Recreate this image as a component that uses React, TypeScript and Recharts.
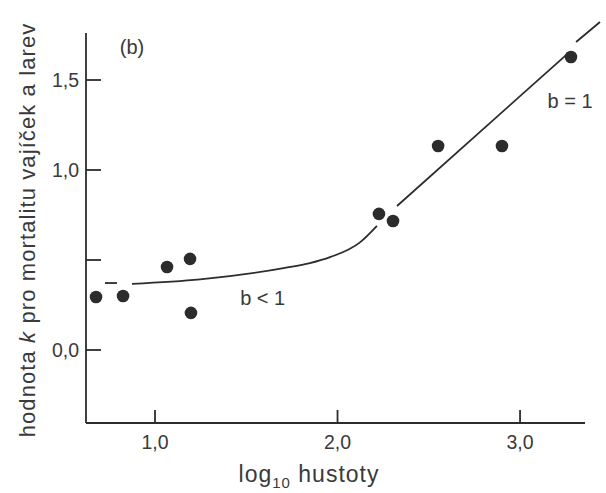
import React from 'react';
import {
  ComposedChart, Line, Scatter, XAxis, YAxis, ReferenceLine, ReferenceDot,
} from 'recharts';

// measured k-values against log10 density
const densityLog = [0.677, 0.825, 1.066, 1.192, 1.197, 2.227, 2.304, 2.551, 2.901, 3.279];
const kValue = [0.294, 0.30, 0.461, 0.506, 0.206, 0.756, 0.717, 1.133, 1.133, 1.628];

// fitted relation, drawn in pieces (it breaks where it passes behind the dots)
const fitDashX = [0.726, 0.792];
const fitDashY = [0.372, 0.372];
const fitCurveX = [0.874, 1.247, 1.712, 1.849, 1.959, 2.123, 2.216];
const fitCurveY = [0.367, 0.392, 0.456, 0.483, 0.516, 0.598, 0.69];
const fitSlopeX = [2.326, 3.258];
const fitSlopeY = [0.8, 1.644];
const fitTailX = [3.307, 3.438];
const fitTailY = [1.711, 1.822];

const xTicks = [1, 2, 3];
const xTickLabels = ['1,0', '2,0', '3,0'];
const yTicks = [0, 0.5, 1, 1.5];
const yTickLabels = ['0,0', '', '1,0', '1,5'];

const X_MIN = 0.622;
const X_AXIS_END = 3.356;
const Y_MIN = -0.4056;
const Y_AXIS_END = 1.761;

const INK = '#2c2c2c';
const TEXT = '#3a3a3a';
const FONT = '"Liberation Sans", Arial, sans-serif';

const pairs = (xs: number[], ys: number[]) => xs.map((x, i) => ({ x, y: ys[i] }));

const points = pairs(densityLog, kValue);
const dashPart = pairs(fitDashX, fitDashY);
const curvePart = pairs(fitCurveX, fitCurveY);
const slopePart = pairs(fitSlopeX, fitSlopeY);
const tailPart = pairs(fitTailX, fitTailY);
// the y-axis tick marks sit on the axis line and point into the plot
const yTickMarks = yTicks.map((t) => ({ x: X_MIN, y: t }));

const XTick = (props: any) => {
  const { x, y, payload } = props;
  const i = xTicks.indexOf(payload.value);
  return (
    <g>
      <line x1={x} y1={y} x2={x} y2={y - 13} stroke={INK} strokeWidth={1.8} />
      <text x={x} y={y + 26} textAnchor="middle" fill={TEXT} fontSize={19.5} fontFamily={FONT}>
        {xTickLabels[i]}
      </text>
    </g>
  );
};

const YTick = (props: any) => {
  const { x, y, payload } = props;
  const i = yTicks.indexOf(payload.value);
  return (
    <text x={x - 7} y={y} textAnchor="end" dominantBaseline="central" fill={TEXT} fontSize={19.5} fontFamily={FONT}>
      {yTickLabels[i]}
    </text>
  );
};

const YTickMark = (props: any) => (
  <line x1={props.cx} y1={props.cy} x2={props.cx + 15} y2={props.cy} stroke={INK} strokeWidth={1.8} />
);

const XTitle = (props: any) => {
  const { viewBox } = props;
  const cx = viewBox.x + 223;
  return (
    <text
      x={cx}
      y={viewBox.y + 59}
      textAnchor="middle"
      fill={TEXT}
      fontSize={23}
      letterSpacing={1}
      fontFamily={FONT}
    >
      log
      <tspan fontSize={15} dy={6}>10</tspan>
      <tspan dy={-6}> hustoty</tspan>
    </text>
  );
};

const YTitle = () => (
  <text
    x={27}
    y={230}
    transform="rotate(-90 27 230)"
    textAnchor="middle"
    dominantBaseline="central"
    fill={TEXT}
    fontSize={22}
    letterSpacing={1.1}
    fontFamily={FONT}
  >
    hodnota <tspan fontStyle="italic">k</tspan> pro mortalitu vajíček a larev
  </text>
);

const Dot = (props: any) => <circle cx={props.cx} cy={props.cy} r={6.3} fill={INK} />;

const annotation = (value: string) => ({
  value,
  position: 'center' as const,
  fill: TEXT,
  fontSize: 20,
  fontFamily: FONT,
});

export default function App() {
  return (
    <div style={{ position: 'absolute', left: 0, top: 0, width: 606, height: 493, background: '#fff' }}>
      <ComposedChart width={606} height={493} margin={{ top: 17, right: 4, bottom: 0, left: 0 }}>
        <XAxis
          type="number"
          dataKey="x"
          domain={[X_MIN, 3.449]}
          ticks={xTicks}
          interval={0}
          tick={<XTick />}
          axisLine={false}
          tickLine={false}
          tickSize={0}
          tickMargin={0}
          height={70}
          label={<XTitle />}
        />
        <YAxis
          type="number"
          dataKey="y"
          domain={[Y_MIN, 1.85]}
          ticks={yTicks}
          interval={0}
          tick={<YTick />}
          axisLine={false}
          tickLine={false}
          tickSize={0}
          tickMargin={0}
          width={86}
        />
        <ReferenceLine
          segment={[{ x: X_MIN, y: Y_MIN }, { x: X_MIN, y: Y_AXIS_END }]}
          stroke={INK}
          strokeWidth={1.8}
          ifOverflow="visible"
        />
        <ReferenceLine
          segment={[{ x: X_MIN, y: Y_MIN }, { x: X_AXIS_END, y: Y_MIN }]}
          stroke={INK}
          strokeWidth={1.8}
          ifOverflow="visible"
        />
        <Scatter data={yTickMarks} dataKey="y" shape={<YTickMark />} isAnimationActive={false} />

        <Line data={dashPart} dataKey="y" type="linear" stroke={INK} strokeWidth={1.8} dot={false} activeDot={false} isAnimationActive={false} />
        <Line data={curvePart} dataKey="y" type="monotone" stroke={INK} strokeWidth={1.8} dot={false} activeDot={false} isAnimationActive={false} />
        <Line data={slopePart} dataKey="y" type="linear" stroke={INK} strokeWidth={1.8} dot={false} activeDot={false} isAnimationActive={false} />
        <Line data={tailPart} dataKey="y" type="linear" stroke={INK} strokeWidth={1.8} dot={false} activeDot={false} isAnimationActive={false} />

        <Scatter data={points} dataKey="y" shape={<Dot />} isAnimationActive={false} />

        <ReferenceDot x={0.874} y={1.683} r={0} fill="none" stroke="none" label={annotation('(b)')} />
        <ReferenceDot x={1.59} y={0.289} r={0} fill="none" stroke="none" label={annotation('b < 1')} />
        <ReferenceDot x={3.274} y={1.383} r={0} fill="none" stroke="none" label={annotation('b = 1')} />
      </ComposedChart>
      <svg width={606} height={493} style={{ position: 'absolute', left: 0, top: 0, pointerEvents: 'none' }}>
        <YTitle />
      </svg>
    </div>
  );
}
